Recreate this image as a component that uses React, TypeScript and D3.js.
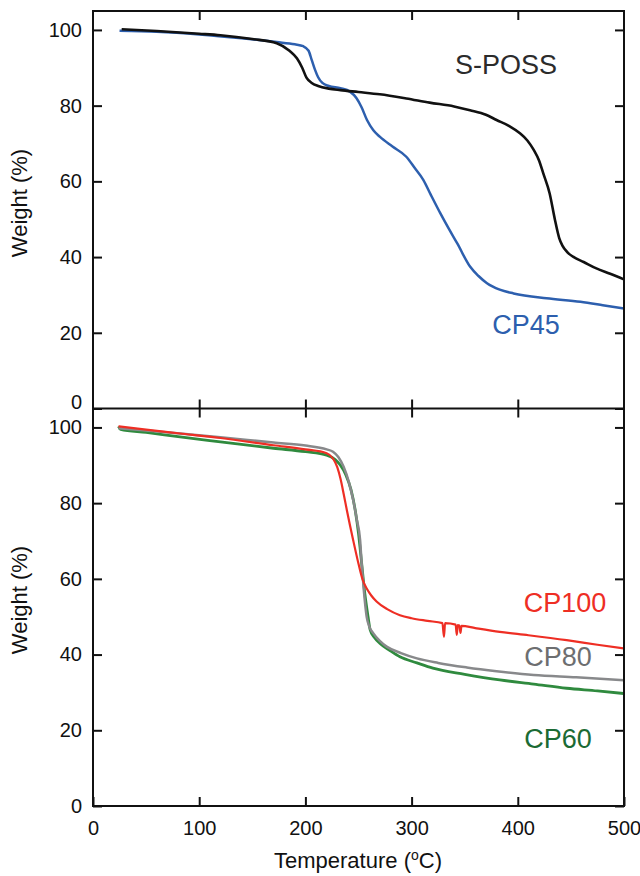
import React, { useEffect, useRef } from "react";
import * as d3 from "d3";

// TGA curves, [temperature °C, weight %]
const sposs: [number, number][] = [
  [27, 100.2], [60, 99.7], [100, 99.0], [120, 98.6], [150, 97.6], [173, 96.5],
  [185, 94.5], [192, 92.5], [197, 90], [201, 87.4], [206, 86], [212, 85.2],
  [222, 84.5], [233, 84.1], [250, 83.6], [270, 83.0], [295, 81.9], [317, 80.8],
  [340, 79.8], [355, 78.8], [370, 77.6], [380, 76.2], [392, 74.6], [402, 72.7],
  [409, 70.8], [415, 68.3], [420, 65.5], [424, 62.1], [430, 56.8], [435, 49.8],
  [439, 45], [442, 43], [447, 41.2], [452, 40.1], [462, 38.7], [474, 37.0],
  [487, 35.6], [500, 34.1],
];

const cp45: [number, number][] = [
  [25, 99.8], [60, 99.5], [100, 98.8], [140, 97.8], [173, 96.8], [190, 96.2],
  [198, 95.7], [203, 94.5], [206, 92], [209, 89.5], [212, 87.5], [216, 86],
  [222, 85.2], [233, 84.6], [242, 83.7], [248, 82], [253, 79.5], [258, 76.2],
  [264, 73.5], [270, 71.8], [282, 69.2], [295, 66.5], [303, 63.5], [311, 60.4],
  [318, 56.5], [327, 51.6], [335, 47.5], [343, 43.6], [355, 37.5], [363, 35],
  [371, 33.1], [383, 31.4], [396, 30.4], [427, 29.1], [459, 28.2], [480, 27.3],
  [500, 26.4],
];

const cp100: [number, number][] = [
  [24, 100.3], [50, 99.4], [82, 98.4], [120, 97.2], [170, 95.3], [200, 94.2],
  [220, 93.2], [226, 91.8], [230, 89.5], [233, 86.5], [236, 82.5], [239, 78.2],
  [245, 70.2], [250, 64], [254, 59.7], [258, 57.3], [262, 55.6], [267, 54],
  [277, 52], [289, 50.4], [300, 49.6], [315, 48.9], [329, 48.3], [330.5, 44.7],
  [331.5, 48.3], [341.5, 47.9], [342.5, 45.2], [343.5, 47.8], [345, 47.7],
  [346, 45.7], [347, 47.6], [360, 47], [383, 46], [410, 45.1], [446, 43.8],
  [475, 42.6], [500, 41.6],
];

const cp80: [number, number][] = [
  [24, 99.8], [50, 99.2], [82, 98.4], [120, 97.4], [170, 96], [200, 95.2],
  [220, 94.2], [226, 93.6], [231, 92.2], [236, 89.6], [241, 85.5], [245, 80.8],
  [248.5, 75.5], [251.5, 70.3], [253, 64], [255, 57], [257.7, 50], [260, 47.5],
  [264, 45.6], [270, 43.6], [276.5, 42.1], [290, 40.4], [305, 39], [325, 37.8],
  [352, 36.6], [380, 35.6], [415, 34.6], [455, 34], [500, 33.2],
];

const cp60: [number, number][] = [
  [24, 100.3], [26, 99.5], [50, 98.7], [82, 97.5], [120, 96.2], [170, 94.5],
  [200, 93.6], [220, 92.7], [228, 91.5], [233, 90], [238, 87.5], [243, 83.5],
  [247, 78], [250, 72], [253, 64], [256, 56], [259, 50], [261, 46.5],
  [265, 44.5], [270, 43], [280, 41], [289, 39.4], [305, 37.8], [320, 36.4],
  [350, 34.8], [383, 33.3], [415, 32.2], [446, 31.1], [475, 30.4], [500, 29.7],
];

const xTicks = [0, 100, 200, 300, 400, 500];
const yTicks = [0, 20, 40, 60, 80, 100];

const FONT = "'Liberation Sans', Arial, sans-serif";

const App = () => {
  const ref = useRef<SVGSVGElement>(null);

  useEffect(() => {
    const width = 640;
    const height = 876;
    const left = 93;
    const right = 624;
    const top = 11;
    const mid = 408.5;
    const bottom = 806;

    const svg = d3.select(ref.current);
    svg.selectAll("*").remove();

    const x = d3.scaleLinear().domain([0, 500]).range([left, right]);
    const yTop = d3.scaleLinear().domain([0, 105]).range([mid, top]);
    const yBot = d3.scaleLinear().domain([0, 105]).range([bottom, mid]);

    const styleAxis = (g: any) => {
      g.select(".domain").remove();
      g.selectAll("line").attr("stroke", "#111").attr("stroke-width", 2);
      g.selectAll("text")
        .attr("font-family", FONT)
        .attr("font-size", 20)
        .attr("fill", "#111");
    };

    // curves
    const drawCurve = (y: any, pts: [number, number][], color: string, w: number) => {
      const line = d3
        .line<[number, number]>()
        .x((d) => x(d[0]))
        .y((d) => y(d[1]))
        .curve(d3.curveMonotoneX);
      svg
        .append("path")
        .attr("d", line(pts))
        .attr("fill", "none")
        .attr("stroke", color)
        .attr("stroke-width", w)
        .attr("stroke-linejoin", "round");
    };

    drawCurve(yTop, cp45, "#2d5fae", 2.5);
    drawCurve(yTop, sposs, "#111", 2.6);
    drawCurve(yBot, cp60, "#2f8a3e", 2.8);
    drawCurve(yBot, cp80, "#88898b", 2.5);
    drawCurve(yBot, cp100, "#ee2e24", 2.2);

    // left axes with labels
    svg
      .append("g")
      .attr("transform", `translate(${left},0)`)
      .call(d3.axisLeft(yTop).tickValues(yTicks).tickSize(-9).tickPadding(11))
      .call(styleAxis)
      .call((g: any) =>
        g.selectAll(".tick text").attr("dy", (d: number) => (d === 0 ? "-0.0em" : "0.32em"))
      );
    svg
      .append("g")
      .attr("transform", `translate(${left},0)`)
      .call(d3.axisLeft(yBot).tickValues(yTicks).tickSize(-9).tickPadding(11))
      .call(styleAxis);

    // right ticks
    for (const y of [yTop, yBot]) {
      svg
        .append("g")
        .attr("transform", `translate(${right},0)`)
        .call(d3.axisRight(y).tickValues(yTicks).tickSize(-9).tickFormat(() => ""))
        .call(styleAxis);
    }

    const inner = xTicks.slice(1, -1);
    // top frame ticks
    svg
      .append("g")
      .attr("transform", `translate(0,${top})`)
      .call(d3.axisTop(x).tickValues(inner).tickSize(-9).tickFormat(() => ""))
      .call(styleAxis);
    // middle line ticks, both panels
    svg
      .append("g")
      .attr("transform", `translate(0,${mid})`)
      .call(d3.axisBottom(x).tickValues(inner).tickSize(-9).tickFormat(() => ""))
      .call(styleAxis);
    svg
      .append("g")
      .attr("transform", `translate(0,${mid})`)
      .call(d3.axisTop(x).tickValues(inner).tickSize(-9).tickFormat(() => ""))
      .call(styleAxis);
    // bottom axis with labels
    svg
      .append("g")
      .attr("transform", `translate(0,${bottom})`)
      .call(d3.axisBottom(x).tickValues(xTicks).tickSize(-9).tickPadding(15))
      .call(styleAxis);

    // frame
    svg
      .append("rect")
      .attr("x", left)
      .attr("y", top)
      .attr("width", right - left)
      .attr("height", bottom - top)
      .attr("fill", "none")
      .attr("stroke", "#111")
      .attr("stroke-width", 2);
    svg
      .append("line")
      .attr("x1", left)
      .attr("x2", right)
      .attr("y1", mid)
      .attr("y2", mid)
      .attr("stroke", "#111")
      .attr("stroke-width", 2);

    // axis titles
    const yTitles = [203, 600];
    yTitles.forEach((cy) => {
      svg
        .append("text")
        .attr("transform", `translate(27,${cy}) rotate(-90)`)
        .attr("text-anchor", "middle")
        .attr("font-family", FONT)
        .attr("font-size", 22)
        .attr("fill", "#111")
        .text("Weight (%)");
    });

    const xt = svg
      .append("text")
      .attr("x", 358)
      .attr("y", 868)
      .attr("text-anchor", "middle")
      .attr("font-family", FONT)
      .attr("font-size", 22)
      .attr("fill", "#111");
    xt.append("tspan").text("Temperature (");
    xt.append("tspan").attr("font-size", 14).attr("dy", -8).text("o");
    xt.append("tspan").attr("dy", 8).text("C)");

    // curve labels
    const labels = [
      { text: "S-POSS", x: 506, y: 74, color: "#2b2b2b" },
      { text: "CP45", x: 526, y: 334, color: "#2d5fae" },
      { text: "CP100", x: 565, y: 612, color: "#ee2e24" },
      { text: "CP80", x: 558, y: 666, color: "#6d6e70" },
      { text: "CP60", x: 558, y: 748, color: "#1b6b34" },
    ];
    labels.forEach((l) => {
      svg
        .append("text")
        .attr("x", l.x)
        .attr("y", l.y)
        .attr("text-anchor", "middle")
        .attr("font-family", FONT)
        .attr("font-size", 27)
        .attr("fill", l.color)
        .text(l.text);
    });

    svg.attr("width", width).attr("height", height);
  }, []);

  return (
    <svg
      ref={ref}
      width={640}
      height={876}
      style={{ position: "absolute", left: 0, top: 0, background: "#fff" }}
    />
  );
};

export default App;
